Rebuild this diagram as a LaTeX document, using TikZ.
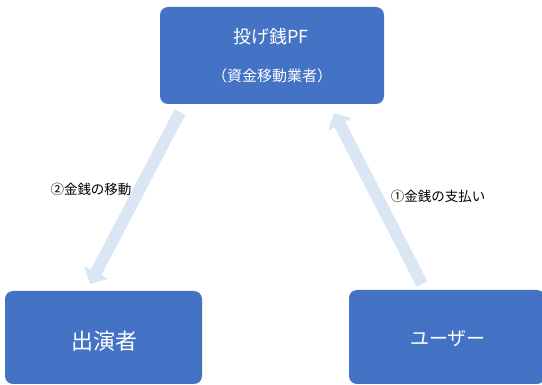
\documentclass[tikz,border=0pt]{standalone}
\usepackage{fontspec}
\setmainfont{Noto Sans CJK JP}
\usetikzlibrary{arrows.meta}
\definecolor{boxblue}{HTML}{4472C4}
\definecolor{arrowblue}{HTML}{DAE6F4}
\tikzset{
  box/.style={fill=boxblue, draw=none, rounded corners=8pt, inner sep=0pt},
  boxtext/.style={text=white, inner sep=0pt},
  flow/.style={draw=arrowblue, line width=12pt, -{Triangle[width=26pt,length=13pt]}},
  lbl/.style={text=black, inner sep=0pt, font=\fontsize{13.5}{16}\selectfont}
}
\begin{document}
\begin{tikzpicture}[x=1pt,y=-1pt]
\useasboundingbox (0,0) rectangle (542,385);
\clip (0,0) rectangle (542,385);
% boxes
\node[box, minimum width=224pt, minimum height=97pt] (pf) at (272,55.5) {};
\node[box, minimum width=197pt, minimum height=93pt] (perf) at (103.5,337.5) {};
\node[box, minimum width=196pt, minimum height=94pt] (user) at (447,337) {};
% box texts
\node[boxtext, font=\fontsize{18}{20}\selectfont] (pftitle) at (271,37) {投げ銭PF};
\node[boxtext, font=\fontsize{15}{18}\selectfont] (pfsub) at (272,76) {（資金移動業者）};
\node[boxtext, font=\fontsize{22}{24}\selectfont] (perftext) at (104,341) {出演者};
\node[boxtext, font=\fontsize{19}{22}\selectfont] (usertext) at (448,339) {ユーザー};
% arrow end points
\coordinate (a2s) at (180,112);
\coordinate (a2e) at (90,284);
\coordinate (a1s) at (422,284);
\coordinate (a1e) at (334,113);
\draw[flow] (a2s) -- (a2e);
\draw[flow] (a1s) -- (a1e);
% labels
\node[lbl] (l2) at (91,189) {②金銭の移動};
\node[lbl] (l1) at (438,196) {①金銭の支払い};
\end{tikzpicture}
\end{document}
